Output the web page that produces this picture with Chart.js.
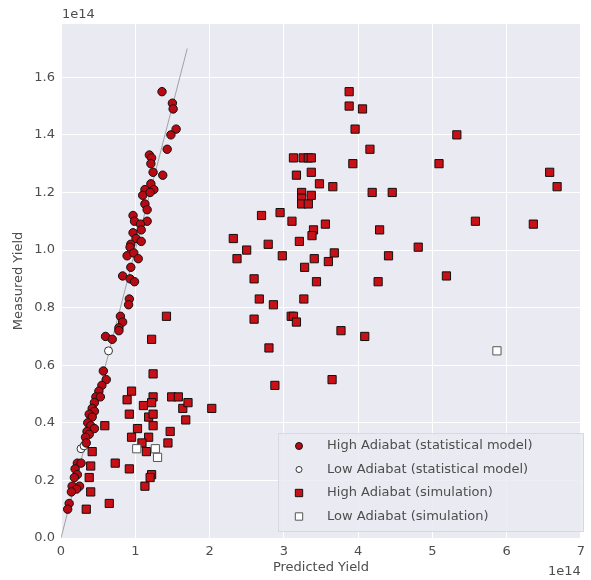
<!DOCTYPE html>
<html>
<head>
<meta charset="utf-8">
<script src="https://cdn.jsdelivr.net/npm/chart.js@4"></script>
<style>
  html, body { margin: 0; padding: 0; background: #fff; }
  #wrap { width: 591px; height: 580px; }
</style>
</head>
<body>
<div id="wrap"><canvas id="chart1" width="591" height="580"></canvas></div>
<script>
// values in units of 1e14
const xTicks = [0, 1, 2, 3, 4, 5, 6, 7];
const yTicks = [0, 0.2, 0.4, 0.6, 0.8, 1.0, 1.2, 1.4, 1.6];
const offsetLabel = '1e14';

const highStatX = [1.36, 1.50, 1.51, 1.55, 1.48, 1.43, 1.19, 1.22, 1.21, 1.24, 1.37, 1.21, 1.25, 1.13, 1.10, 1.20, 1.13, 1.16, 0.97, 0.99, 1.16, 1.07, 1.08, 0.97, 1.01, 1.08, 0.94, 0.93, 0.89, 0.98, 1.04, 0.94, 0.83, 0.93, 0.99, 0.92, 0.91, 0.80, 0.83, 0.78, 0.78, 0.60, 0.69, 0.57, 0.61, 0.55, 0.51, 0.47, 0.53, 0.45, 0.42, 0.45, 0.38, 0.42, 0.36, 0.40, 0.45, 0.35, 0.38, 0.33, 0.34, 0.22, 0.27, 0.19, 0.22, 0.18, 0.15, 0.25, 0.21, 0.14, 0.11, 0.09];
const highStatY = [1.55, 1.51, 1.49, 1.42, 1.40, 1.35, 1.33, 1.32, 1.30, 1.27, 1.26, 1.23, 1.21, 1.21, 1.19, 1.20, 1.16, 1.14, 1.12, 1.10, 1.10, 1.09, 1.07, 1.06, 1.04, 1.03, 1.02, 1.01, 0.98, 0.99, 0.97, 0.94, 0.91, 0.90, 0.89, 0.83, 0.81, 0.77, 0.75, 0.73, 0.72, 0.70, 0.69, 0.58, 0.55, 0.53, 0.51, 0.49, 0.49, 0.47, 0.45, 0.44, 0.43, 0.42, 0.40, 0.39, 0.38, 0.37, 0.36, 0.35, 0.33, 0.26, 0.26, 0.24, 0.22, 0.21, 0.18, 0.18, 0.17, 0.16, 0.12, 0.10];

const lowStatX = [0.64, 0.27, 0.31];
const lowStatY = [0.65, 0.31, 0.32];

const highSimX = [1.42, 1.22, 1.24, 0.95, 0.89, 1.11, 1.24, 1.22, 1.49, 1.58, 1.64, 1.71, 1.68, 2.03, 0.92, 1.18, 1.24, 1.03, 1.24, 1.47, 0.95, 1.18, 1.09, 1.44, 1.15, 0.92, 0.73, 1.22, 1.20, 1.13, 0.65, 0.34, 0.59, 0.42, 0.40, 0.38, 0.40,
  3.88, 3.88, 4.06, 3.96, 5.33, 4.16, 3.13, 3.26, 3.33, 3.37, 3.93, 5.09, 3.17, 3.37, 6.58, 3.48, 3.66, 6.68, 4.19, 4.46, 3.24, 3.24, 3.37, 3.24, 3.33, 3.11, 3.56, 5.58, 6.36, 4.29, 3.40, 3.38, 3.21, 3.68, 4.41, 4.81, 3.41, 3.28, 3.60, 3.44, 4.27, 5.19, 2.70, 2.95, 2.32, 2.37, 2.50, 2.79, 2.98, 2.60, 2.67, 2.86, 2.60, 3.10, 2.80, 2.88, 3.27, 3.13, 3.17, 3.77, 4.09, 3.65];
const highSimY = [0.77, 0.69, 0.57, 0.51, 0.48, 0.46, 0.49, 0.47, 0.49, 0.49, 0.45, 0.47, 0.41, 0.45, 0.43, 0.42, 0.43, 0.38, 0.39, 0.37, 0.35, 0.35, 0.33, 0.33, 0.30, 0.24, 0.26, 0.22, 0.21, 0.18, 0.12, 0.10, 0.39, 0.30, 0.25, 0.21, 0.16,
  1.55, 1.50, 1.49, 1.42, 1.40, 1.35, 1.32, 1.32, 1.32, 1.32, 1.30, 1.30, 1.26, 1.27, 1.27, 1.23, 1.22, 1.22, 1.20, 1.20, 1.20, 1.18, 1.19, 1.16, 1.16, 1.10, 1.09, 1.10, 1.09, 1.07, 1.07, 1.05, 1.03, 0.99, 0.98, 1.01, 0.97, 0.94, 0.96, 0.89, 0.89, 0.91, 1.12, 1.13, 1.04, 0.97, 1.00, 1.02, 0.98, 0.90, 0.83, 0.81, 0.76, 0.77, 0.66, 0.53, 0.83, 0.77, 0.75, 0.72, 0.70, 0.55];

const lowSimX = [1.02, 1.27, 1.30, 5.87];
const lowSimY = [0.31, 0.31, 0.28, 0.65];

const diagX = [0, 1.7];
const diagY = [0, 1.7];

const zip = (xs, ys) => xs.map((x, i) => ({ x: x, y: ys[i] }));

const textColor = '#4d4d4d';
const fontFamily = '"DejaVu Sans", sans-serif';

// plot background (seaborn darkgrid look)
const plotBg = {
    id: 'plotBg',
    beforeDraw(chart) {
        const { ctx, chartArea: a } = chart;
        ctx.save();
        ctx.fillStyle = '#EAEAF2';
        ctx.fillRect(a.left, a.top, a.right - a.left, a.bottom - a.top);
        ctx.restore();
    }
};

// offset text "1e14" + legend inside the plot
const extras = {
    id: 'extras',
    afterDatasetsDraw(chart) {
        const { ctx, chartArea: a } = chart;
        ctx.save();
        ctx.font = '13px ' + fontFamily;
        ctx.fillStyle = textColor;
        ctx.textBaseline = 'middle';
        ctx.textAlign = 'left';
        ctx.fillText(offsetLabel, a.left + 1, 15);
        ctx.textAlign = 'right';
        ctx.fillText(offsetLabel, a.right, 572);

        // legend box
        const bx = 278, by = 433, bw = 305, bh = 98;
        ctx.fillStyle = 'rgba(234,234,242,0.85)';
        ctx.strokeStyle = '#d8d8e0';
        ctx.lineWidth = 1;
        ctx.fillRect(bx, by, bw, bh);
        ctx.strokeRect(bx + 0.5, by + 0.5, bw, bh);

        const items = chart.data.datasets.filter(d => d.inLegend);
        items.forEach((d, i) => {
            const y = by + 13 + i * 23.5;
            ctx.fillStyle = d.backgroundColor;
            ctx.strokeStyle = d.borderColor;
            ctx.lineWidth = d.borderWidth;
            Chart.helpers.drawPoint(ctx, {
                pointStyle: d.pointStyle,
                radius: d.legendRadius,
                rotation: 0,
                borderWidth: d.borderWidth
            }, 299, y);
            ctx.fillStyle = textColor;
            ctx.textAlign = 'left';
            ctx.fillText(d.label, 327, y);
        });
        ctx.restore();
    }
};

const chart1Ctx = document.getElementById('chart1').getContext('2d');
const chart1 = new Chart(chart1Ctx, {
    type: 'scatter',
    data: {
        datasets: [
            {
                label: 'High Adiabat (simulation)',
                data: zip(highSimX, highSimY),
                pointStyle: 'rect',
                pointRadius: 5.8,
                legendRadius: 5.2,
                backgroundColor: 'rgb(200,16,22)',
                borderColor: '#111',
                borderWidth: 1,
                inLegend: true,
                legendOrder: 2,
                order: 1
            },
            {
                label: 'Low Adiabat (simulation)',
                data: zip(lowSimX, lowSimY),
                pointStyle: 'rect',
                pointRadius: 5.8,
                legendRadius: 5.2,
                backgroundColor: '#ffffff',
                borderColor: '#555',
                borderWidth: 1,
                inLegend: true,
                legendOrder: 3,
                order: 0
            },
            {
                label: 'High Adiabat (statistical model)',
                data: zip(highStatX, highStatY),
                pointStyle: 'circle',
                pointRadius: 4.2,
                legendRadius: 3.5,
                backgroundColor: 'rgb(185,10,20)',
                borderColor: '#111',
                borderWidth: 1,
                inLegend: true,
                legendOrder: 0,
                order: 2
            },
            {
                label: 'Low Adiabat (statistical model)',
                data: zip(lowStatX, lowStatY),
                pointStyle: 'circle',
                pointRadius: 4,
                legendRadius: 3,
                backgroundColor: '#ffffff',
                borderColor: '#333',
                borderWidth: 1,
                inLegend: true,
                legendOrder: 1,
                order: 2
            },
            {
                type: 'line',
                label: 'y = x',
                data: zip(diagX, diagY),
                borderColor: 'rgba(120,120,120,0.8)',
                borderWidth: 0.8,
                pointRadius: 0,
                order: 3
            }
        ]
    },
    options: {
        responsive: false,
        animation: false,
        events: [],
        layout: { padding: { top: 24, right: 2, left: 0, bottom: 0 } },
        plugins: {
            legend: { display: false },
            tooltip: { enabled: false }
        },
        scales: {
            x: {
                type: 'linear',
                min: 0,
                max: 7,
                afterBuildTicks: s => { s.ticks = xTicks.map(v => ({ value: v })); },
                afterFit: s => { s.height = 42; },
                grid: { color: '#ffffff', lineWidth: 1, drawTicks: false },
                border: { display: false },
                ticks: {
                    padding: 6,
                    color: textColor,
                    font: { family: fontFamily, size: 13 },
                    callback: v => String(v)
                },
                title: {
                    display: true,
                    text: 'Predicted Yield',
                    color: textColor,
                    font: { family: fontFamily, size: 13 },
                    padding: { top: 0, bottom: 5 }
                }
            },
            y: {
                type: 'linear',
                min: 0,
                max: 1.785,
                afterBuildTicks: s => { s.ticks = yTicks.map(v => ({ value: v })); },
                afterFit: s => { s.width = 61; },
                grid: { color: '#ffffff', lineWidth: 1, drawTicks: false },
                border: { display: false },
                ticks: {
                    padding: 6,
                    color: textColor,
                    font: { family: fontFamily, size: 13 },
                    callback: v => v.toFixed(1)
                },
                title: {
                    display: true,
                    text: 'Measured Yield',
                    color: textColor,
                    font: { family: fontFamily, size: 13 },
                    padding: { top: 11, bottom: 0 }
                }
            }
        }
    },
    plugins: [plotBg, extras]
});
// legend entries in the reference order
chart1.data.datasets.sort((a, b) => (a.legendOrder ?? 9) - (b.legendOrder ?? 9));
chart1.update();
</script>
</body>
</html>
